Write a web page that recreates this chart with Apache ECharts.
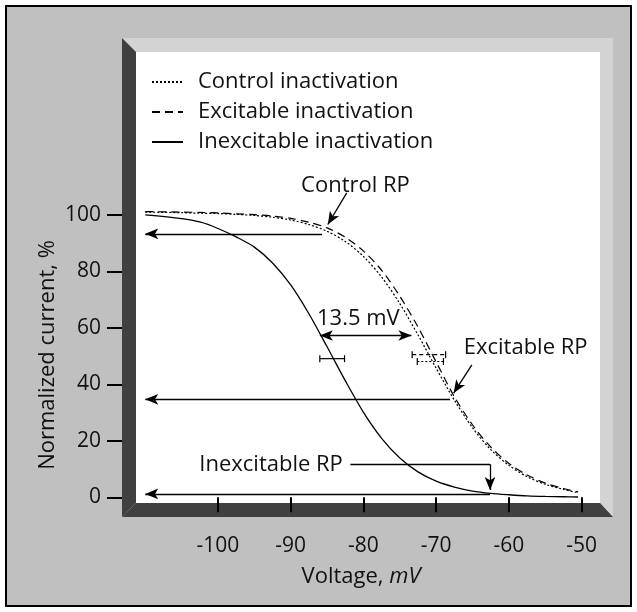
<!DOCTYPE html>
<html lang="en">
<head>
    <meta charset="utf-8"/>
    <title>Inactivation curves</title>
    <script src="https://cdn.jsdelivr.net/npm/echarts@6/dist/echarts.min.js"></script>
    <style>
        html, body { margin: 0; padding: 0; background: #fff; }
        #chart { width: 637px; height: 612px; }
    </style>
</head>
<body>
<div id="chart"></div>
<script>
    // voltage steps (mV) and normalized current (%)
    var voltage = [-110, -105, -102.5, -100, -97.5, -95, -92.5, -90, -87.5, -85, -82.5, -80, -77.5, -75, -72.5, -70, -67.5, -65, -62.5, -60, -57.5, -55, -52.5, -50.5];
    var controlValues = [101, 100.8, 100.6, 100.5, 100.2, 99.8, 99.2, 98.2, 96.6, 94.2, 90.6, 85.3, 78, 68.6, 57.5, 45.7, 34.4, 24.6, 16.9, 11.3, 7.3, 4.6, 2.8, 1.6];
    var excitableValues = [101.2, 101, 100.9, 100.7, 100.4, 100.1, 99.6, 98.8, 97.4, 95.4, 92.1, 87.2, 80.4, 71.2, 60.3, 47.9, 35.6, 25.6, 17.8, 12, 7.9, 5, 3.1, 1.9];
    var inexcitableValues = [100, 98.7, 97.5, 95.2, 92.2, 88.6, 83, 75.2, 65, 53.3, 41.3, 30.1, 20.9, 13.9, 9, 5.7, 3.6, 2.2, 1.4, 0.9, 0.5, 0.3, 0.2, 0.1];

    var xTicks = [-100, -90, -80, -70, -60, -50];
    var yTicks = [0, 20, 40, 60, 80, 100];

    // half-inactivation error bars: [left mV, right mV, level %]
    var controlErr = [-72.6, -69.0, 48.1];
    var excitableErr = [-73.3, -68.7, 50.5];
    var inexcitableErr = [-86.0, -82.6, 49.1];

    // annotation arrows: [from, to, symbol at from, symbol at to]
    var arrows = [
        [[-85.7, 93.3], [-110, 93.3], 'none', 'arrow'],
        [[-68.1, 34.7], [-110, 34.7], 'none', 'arrow'],
        [[-62.6, 1.2], [-110, 1.2], 'none', 'arrow'],
        [[-86.0, 57.3], [-73.4, 57.3], 'arrow', 'arrow'],
        [[-82.3, 107.8], [-84.9, 96.6], 'none', 'arrow'],
        [[-65.1, 46.9], [-67.6, 36.9], 'none', 'arrow'],
        [[-81.8, 11.7], [-62.6, 11.7], 'none', 'none'],
        [[-62.6, 11.7], [-62.6, 2.6], 'none', 'arrow']
    ];
    // annotation texts: [text, mV, %] (centre of text)
    var notes = [
        ['Control RP', -81.1, 110.3],
        ['Excitable RP', -57.7, 52.8],
        ['13.5 mV', -80.7, 63.4],
        ['Inexcitable RP', -92.7, 11.6]
    ];

    var FONT = 'Open Sans';
    var FS = 22;      // text size
    var TS = 21;      // tick label size

    function pairs(ys) {
        var out = [];
        for (var i = 0; i < voltage.length; i++) {
            out.push([voltage[i], ys[i]]);
        }
        return out;
    }

    function errBar(name, bar, dash) {
        return {
            name: name,
            type: 'custom',
            silent: true,
            encode: {x: [0, 1], y: 2},
            data: [bar],
            renderItem: function (params, api) {
                var a = api.coord([api.value(0), api.value(2)]);
                var b = api.coord([api.value(1), api.value(2)]);
                var h = 3.5;
                var st = {stroke: '#000', lineWidth: 1.2};
                return {
                    type: 'group',
                    children: [
                        {type: 'line', shape: {x1: a[0], y1: a[1], x2: b[0], y2: b[1]}, style: {stroke: '#000', lineWidth: 1.2, lineDash: dash}},
                        {type: 'line', shape: {x1: a[0], y1: a[1] - h, x2: a[0], y2: a[1] + h}, style: st},
                        {type: 'line', shape: {x1: b[0], y1: b[1] - h, x2: b[0], y2: b[1] + h}, style: st}
                    ]
                };
            }
        };
    }

    var chart = echarts.init(document.getElementById('chart'));

    var option = {
        backgroundColor: '#fff',
        animation: false,
        textStyle: {fontFamily: FONT, color: '#111'},
        graphic: [
            {type: 'rect', z: -10, shape: {x: 6, y: 6, width: 625, height: 600}, style: {fill: '#c0c0c0', stroke: '#000', lineWidth: 2}},
            {type: 'polygon', z: -9, shape: {points: [[122, 38], [613, 38], [600, 52], [136, 52]]}, style: {fill: '#d3d3d3'}},
            {type: 'polygon', z: -9, shape: {points: [[613, 38], [613, 517], [600, 503], [600, 52]]}, style: {fill: '#d3d3d3'}},
            {type: 'polygon', z: -9, shape: {points: [[122, 38], [136, 52], [136, 503], [122, 517]]}, style: {fill: '#404040'}},
            {type: 'polygon', z: -9, shape: {points: [[122, 517], [136, 503], [600, 503], [613, 517]]}, style: {fill: '#404040'}},
            {type: 'rect', z: -9, shape: {x: 136, y: 52, width: 464, height: 451}, style: {fill: '#fff'}},
            {
                type: 'text', x: 48, y: 355, rotation: Math.PI / 2,
                style: {text: 'Normalized current, %', font: FS + 'px "' + FONT + '"', fill: '#111', align: 'center', verticalAlign: 'middle'}
            },
            {
                type: 'text', x: 361, y: 577,
                style: {
                    text: '{a|Voltage, }{b|mV}', align: 'center', verticalAlign: 'middle',
                    rich: {
                        a: {fontFamily: FONT, fontSize: FS, fill: '#111'},
                        b: {fontFamily: FONT, fontSize: FS, fontStyle: 'italic', fill: '#111'}
                    }
                }
            }
        ],
        legend: {
            orient: 'vertical',
            left: 146,
            top: 66,
            itemWidth: 31,
            itemHeight: 12,
            itemGap: 8,
            selectedMode: false,
            itemStyle: {opacity: 0},
            data: ['Control inactivation', 'Excitable inactivation', 'Inexcitable inactivation'],
            textStyle: {fontFamily: FONT, fontSize: FS, lineHeight: 21, color: '#111', padding: [0, 0, 0, 10]}
        },
        grid: {left: 136, right: 37, top: 52, bottom: 109},
        xAxis: {
            type: 'value',
            min: -111.27,
            max: -47.48,
            offset: 14,
            splitLine: {show: false},
            axisLine: {show: false},
            axisTick: {show: true, length: 15, lineStyle: {color: '#000', width: 2}, customValues: xTicks},
            axisLabel: {customValues: xTicks, margin: 19, fontSize: TS, fontFamily: FONT, color: '#111'}
        },
        yAxis: {
            type: 'value',
            min: -2.02,
            max: 157.7,
            offset: 14,
            splitLine: {show: false},
            axisLine: {show: false},
            axisTick: {show: true, length: 15, lineStyle: {color: '#000', width: 2}, customValues: yTicks},
            axisLabel: {customValues: yTicks, margin: 21, fontSize: TS, fontFamily: FONT, color: '#111'}
        },
        series: [
            {
                name: 'Control inactivation',
                type: 'line',
                smooth: 0.3,
                symbol: 'none',
                clip: false,
                data: pairs(controlValues),
                lineStyle: {color: '#000', width: 1.2, type: [2, 2]},
                itemStyle: {color: '#000'}
            },
            {
                name: 'Excitable inactivation',
                type: 'line',
                smooth: 0.3,
                symbol: 'none',
                clip: false,
                data: pairs(excitableValues),
                lineStyle: {color: '#000', width: 1.2, type: [8, 5]},
                itemStyle: {color: '#000'}
            },
            {
                name: 'Inexcitable inactivation',
                type: 'line',
                smooth: 0.3,
                symbol: 'none',
                clip: false,
                data: pairs(inexcitableValues),
                lineStyle: {color: '#000', width: 1.3},
                itemStyle: {color: '#000'},
                markLine: {
                    silent: true,
                    animation: false,
                    symbolSize: [8, 13],
                    label: {show: false},
                    lineStyle: {color: '#000', width: 1.3, type: 'solid'},
                    data: arrows.map(function (a) {
                        return [{coord: a[0], symbol: a[2]}, {coord: a[1], symbol: a[3]}];
                    })
                },
                markPoint: {
                    silent: true,
                    symbol: 'circle',
                    symbolSize: 0,
                    label: {
                        show: true, position: 'inside', color: '#111',
                        fontFamily: FONT, fontSize: FS,
                        formatter: function (p) { return p.name; }
                    },
                    data: notes.map(function (n) {
                        return {name: n[0], coord: [n[1], n[2]]};
                    })
                }
            },
            errBar('err-control', controlErr, [2, 2]),
            errBar('err-excitable', excitableErr, [4, 3]),
            errBar('err-inexcitable', inexcitableErr, null)
        ]
    };

    chart.setOption(option);
</script>
</body>
</html>
